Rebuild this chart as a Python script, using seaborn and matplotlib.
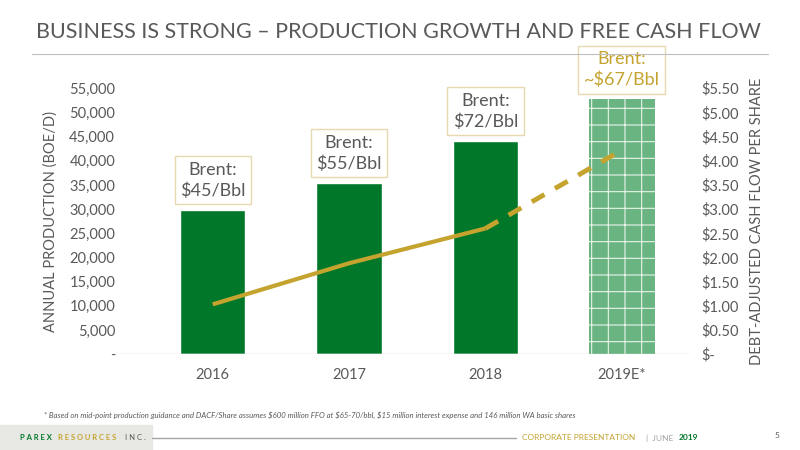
import matplotlib.pyplot as plt
import seaborn as sns
import pandas as pd
from matplotlib.patches import Rectangle

years = ["2016", "2017", "2018", "2019E*"]
production = [29800, 35400, 44100, 52700]
dacf = [1.03, 1.88, 2.60, 4.22]
brent = ["Brent:\n$45/Bbl", "Brent:\n$55/Bbl", "Brent:\n$72/Bbl", "Brent:\n~$67/Bbl"]
left_ticks = list(range(0, 55001, 5000))
right_ticks = [i * 0.5 for i in range(12)]

green = "#007729"
gold = "#c4a32e"
grey = "#595959"

sns.set_style("white")
plt.rcParams['font.family'] = ['Lato', 'DejaVu Sans']
plt.rcParams['hatch.linewidth'] = 0.8

fig = plt.figure(figsize=(8, 4.5), dpi=100)
ax = fig.add_axes([0.15, 0.213, 0.7125, 0.591])
df = pd.DataFrame({"year": years, "prod": production})
sns.barplot(data=df, x="year", y="prod", color=green, width=0.48, ax=ax, saturation=1)
last = ax.patches[3]
last.set_facecolor("#6ab482")
last.set_edgecolor("#e8f3ea")
last.set_hatch("+")
last.set_linewidth(0)

ax.set_xlim(-0.68, 3.5)
ax.set_ylim(0, 55000)
ax.set_yticks(left_ticks)
ax.set_yticklabels(["-"] + [f"{v:,}" for v in left_ticks[1:]])
ax.set_xlabel("")
ax.set_ylabel("ANNUAL PRODUCTION (BOE/D)", fontsize=10.5, color=grey, labelpad=8)
ax.tick_params(axis="both", length=0, labelsize=10.5, colors=grey)
ax.tick_params(axis="x", pad=10)
for s in ax.spines.values():
    s.set_visible(False)
ax.axhline(0, color="#d9d9d9", lw=1)

ax2 = ax.twinx()
ax2.set_ylim(0, 5.5)
ax2.set_yticks(right_ticks)
ax2.set_yticklabels(["$-"] + [f"${v:.2f}" for v in right_ticks[1:]])
ax2.tick_params(axis="y", length=0, labelsize=10.5, colors=grey, pad=8)
ax2.set_ylabel("DEBT-ADJUSTED CASH FLOW PER SHARE", fontsize=10.5, color=grey, labelpad=8)
for s in ax2.spines.values():
    s.set_visible(False)
ax2.plot([0, 1, 2], dacf[:3], color=gold, lw=3, solid_capstyle="butt")
ax2.plot([2, 3], dacf[2:], color=gold, lw=3.5, ls=(0, (3, 2.5)))

for i, (t, pv) in enumerate(zip(brent, production)):
    c = gold if i == 3 else grey
    ax.annotate(t, (i, pv), xytext=(0, 8), textcoords="offset points", ha="center", va="bottom",
                fontsize=13, color=c, linespacing=1.35, annotation_clip=False,
                bbox=dict(boxstyle="square,pad=0.3", fc="white", ec="#e6d9b0", lw=1))

fig.text(0.045, 0.93, "BUSINESS IS STRONG \u2013 PRODUCTION GROWTH AND FREE CASH FLOW",
         fontsize=15.5, color=grey, va="center")
fig.add_artist(plt.Line2D([0.04, 0.96], [0.88, 0.88], color="#bfbfbf", lw=0.8))
fig.text(0.055, 0.077, "* Based on mid-point production guidance and DACF/Share assumes $600 million FFO at $65-70/bbl, "
         "$15 million interest expense and 146 million WA basic shares",
         fontsize=5.6, color=grey, style="italic", va="center")
fig.add_artist(Rectangle((0, 0), 0.19, 0.055, color="#e7e8e3", transform=fig.transFigure))
fig.text(0.025, 0.027, "P A R E X", fontsize=5.5, color=green, weight="bold", va="center")
fig.text(0.072, 0.027, "R E S O U R C E S", fontsize=5.5, color=gold, weight="bold", va="center")
fig.text(0.182, 0.027, "I N C .", fontsize=5.5, color=grey, va="center", ha="right")
fig.add_artist(plt.Line2D([0.19, 0.645], [0.027, 0.027], color="#a6a6a6", lw=1))
fig.text(0.653, 0.027, "CORPORATE PRESENTATION", fontsize=6, color=gold, va="center")
fig.text(0.808, 0.027, "|  JUNE", fontsize=6, color="#a6a6a6", va="center")
fig.text(0.848, 0.027, "2019", fontsize=6, color=green, weight="bold", va="center")
fig.text(0.968, 0.032, "5", fontsize=6, color=grey, va="center")

fig.savefig("out.png", dpi=100)
